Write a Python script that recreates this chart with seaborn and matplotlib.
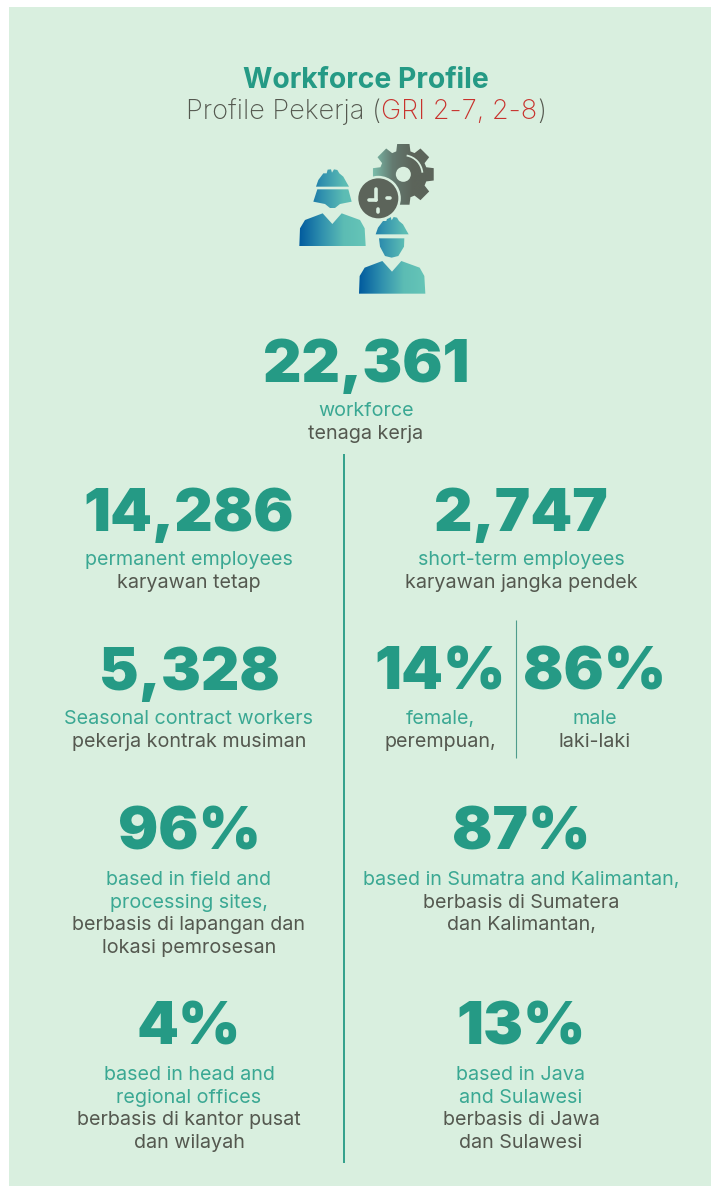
import numpy as np
import matplotlib
matplotlib.use("Agg")
import matplotlib.pyplot as plt
import seaborn as sns
from matplotlib.patches import Rectangle, PathPatch, Circle, Wedge
from matplotlib.path import Path
from matplotlib.colors import LinearSegmentedColormap

sns.set_theme(style="white")
plt.rcParams['font.family'] = ['Inter', 'DejaVu Sans']

# ---------- content ----------
title_en = "Workforce Profile"
title_id = ["Profile Pekerja (", "GRI 2-7, 2-8", ")"]
stat_values = ["22,361", "14,286", "2,747", "5,328", "14%", "86%", "96%", "87%", "4%", "13%"]
stat_en = [["workforce"], ["permanent employees"], ["short-term employees"],
           ["Seasonal contract workers"], ["female,"], ["male"],
           ["based in field and", "processing sites,"], ["based in Sumatra and Kalimantan,"],
           ["based in head and", "regional offices"], ["based in Java", "and Sulawesi"]]
stat_id = [["tenaga kerja"], ["karyawan tetap"], ["karyawan jangka pendek"],
           ["pekerja kontrak musiman"], ["perempuan,"], ["laki-laki"],
           ["berbasis di lapangan dan", "lokasi pemrosesan"], ["berbasis di Sumatera", "dan Kalimantan,"],
           ["berbasis di kantor pusat", "dan wilayah"], ["berbasis di Jawa", "dan Sulawesi"]]
# ---------- layout (pixels) ----------
stat_x = [366, 189, 521, 189, 440, 595, 189, 521, 189, 521]
stat_y = [360, 509, 509, 668, 668, 668, 828, 828, 1023, 1023]
first_line_y = [411, 560, 560, 719, 719, 719, 880, 880, 1075, 1075]
line_gap = 22.7

BG = "#d9efdf"; NUM = "#259a85"; TEAL = "#3aa893"; DARK = "#54584f"; RED = "#c8322d"
NUM_PT, BODY_PT = 43, 14.2

fig, ax = plt.subplots(figsize=(7.11, 11.86), dpi=100)
fig.patch.set_facecolor("white")
ax.set_position([0, 0, 1, 1])
ax.set_xlim(0, 711); ax.set_ylim(1186, 0)
ax.set_xticks([]); ax.set_yticks([])
sns.despine(ax=ax, left=True, bottom=True)
ax.add_patch(Rectangle((9, 7), 702, 1179, fc=BG, ec="none", zorder=0))

# title
ax.text(366, 80, title_en, ha="center", va="center", fontsize=20.4, fontweight="bold", color=NUM)
r = fig.canvas.get_renderer()
parts = [ax.text(0, 112, s, ha="left", va="center", fontsize=19.6, fontweight="light", color=c)
         for s, c in zip(title_id, [DARK, RED, DARK])]
widths = [p.get_window_extent(r).width for p in parts]
x = 366 - sum(widths) / 2
for p, w in zip(parts, widths):
    p.set_x(x); x += w

# stats
for v, en, idn, sx, sy, fy in zip(stat_values, stat_en, stat_id, stat_x, stat_y, first_line_y):
    ax.text(sx, sy, v, ha="center", va="center_baseline", fontsize=NUM_PT, fontweight="black", color=NUM)
    y = fy
    for s in en:
        ax.text(sx, y, s, ha="center", va="center", fontsize=BODY_PT, color=TEAL); y += line_gap
    for s in idn:
        ax.text(sx, y, s, ha="center", va="center", fontsize=BODY_PT, color=DARK); y += line_gap

# dividers
ax.plot([344, 344], [454, 1163], color=NUM, lw=1.3, solid_capstyle="butt")
ax.plot([515.5, 515.5], [620, 758], color="#4f9c8c", lw=0.8, solid_capstyle="butt")

# ---------- icon ----------
def Z(pts):
    a = np.array(pts, float)
    return np.c_[280 + a[:, 0] / 3, 130 + a[:, 1] / 3]

def grad_fill(polys, x0, x1, colors, z=3):
    verts, codes = [], []
    for p in polys:
        verts += list(p) + [p[0]]
        codes += [Path.MOVETO] + [Path.LINETO] * (len(p) - 1) + [Path.CLOSEPOLY]
    path = PathPatch(Path(verts, codes), fc="none", ec="none", transform=ax.transData)
    ax.add_patch(path)
    cm = LinearSegmentedColormap.from_list("g", colors)
    ys = np.vstack(polys)[:, 1]
    im = ax.imshow(np.linspace(0, 1, 256)[None, :], extent=[x0, x1, ys.max(), ys.min()],
                   cmap=cm, aspect="auto", zorder=z)
    im.set_clip_path(path)

worker = ["#005a9e", "#2f8fae", "#5cbcb4", "#66c5b7"]
body = [(58, 348), (60, 295), (75, 270), (128, 250), (157, 282), (185, 250), (240, 270), (254, 295), (257, 348)]
hat = [(108, 170), (115, 150), (130, 130), (140, 130), (143, 119), (153, 118), (156, 128), (162, 118),
       (172, 120), (178, 130), (190, 140), (200, 158), (207, 170)]
hair = [(100, 215), (112, 178), (205, 178), (215, 215), (180, 222), (165, 234), (150, 234), (135, 222)]
head2 = [(297, 325), (373, 325), (372, 350), (355, 378), (335, 383), (315, 378), (300, 350)]
sh = lambda pts: [(a + 179, b + 143) for a, b in pts]
grad_fill([Z(body), Z(hat), Z(hair)], 280 + 58 / 3, 280 + 257 / 3, worker)
grad_fill([Z(sh(body)), Z(sh(hat)), Z(head2)], 280 + 237 / 3, 280 + 436 / 3, worker)

# gear
cx, cy = 280 + 370 / 3, 130 + 133 / 3
ang = np.deg2rad(np.arange(8) * 45)
gear = []
for t in ang:
    for dt, rad in [(-0.30, 24), (-0.20, 31), (0.20, 31), (0.30, 24)]:
        gear.append((cx + rad * np.cos(t + dt), cy + rad * np.sin(t + dt)))
grad_fill([np.array(gear)], cx - 31, cx + 31, ["#7cc0ae", "#647a70", "#5c645a", "#5c645a"], z=3)
ax.add_patch(Circle((cx, cy), 7.5, fc=BG, ec="none", zorder=4))
ax.add_patch(Wedge((cx, cy), 20, -80, -5, width=1.8, fc=BG, ec="none", zorder=4))
# clock
kx, ky = 280 + 295 / 3, 130 + 205 / 3
ax.add_patch(Circle((kx, ky), 22.5, fc=BG, ec="none", zorder=5))
ax.add_patch(Circle((kx, ky), 20, fc="#5c645a", ec="none", zorder=6))
for xs, ys in [([kx - 2.3, kx - 2.3], [ky - 9, ky + 1.5]), ([kx - 9, kx - 2.3], [ky + 1.5, ky + 1.5]),
               ([kx + 9, kx + 12], [ky, ky]), ([kx - .5, kx - .5], [ky + 11, ky + 14])]:
    ax.plot(xs, ys, color=BG, lw=2.6, solid_capstyle="round", zorder=7)

ax.set_xlim(0, 711); ax.set_ylim(1186, 0)
fig.savefig("out.png", dpi=100, facecolor="white")
